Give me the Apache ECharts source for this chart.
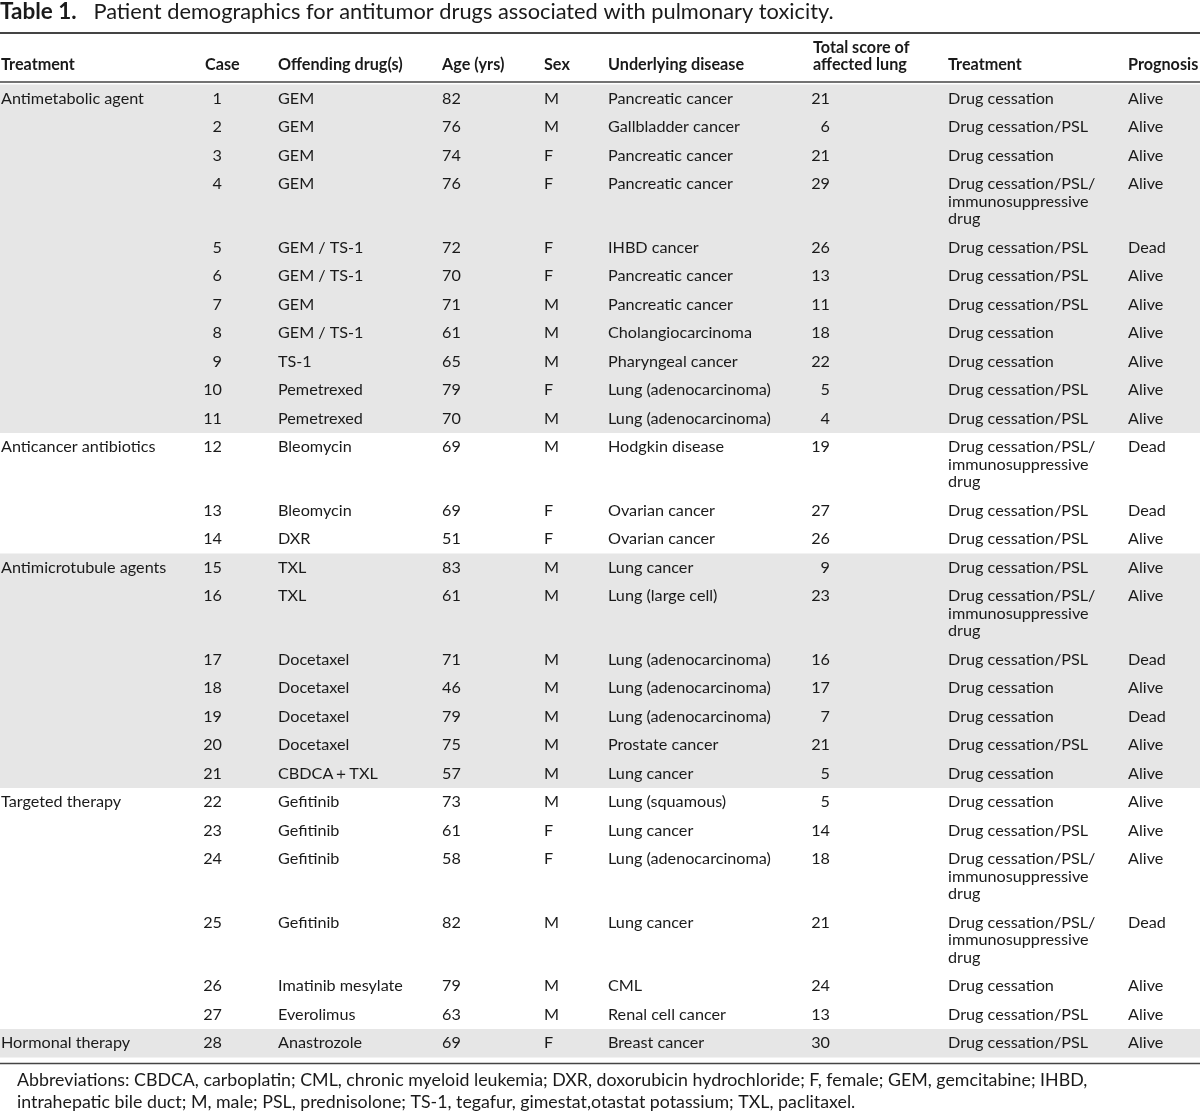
<!DOCTYPE html>
<html><head><meta charset="utf-8">
<script src="https://cdn.jsdelivr.net/npm/echarts@6/dist/echarts.min.js"></script>
<style>html,body{margin:0;padding:0;background:#fff}#c{width:1200px;height:1111px}</style>
</head><body><div id="c"></div>
<script>
const groupNames = ['Antimetabolic agent','Anticancer antibiotics','Antimicrotubule agents','Targeted therapy','Hormonal therapy'];
const groupFirstCase = [1,12,15,22,28];
const groupLastCase = [11,14,21,27,28];
const groupShaded = [true,false,true,false,true];
const headers = ['Treatment','Case','Offending drug(s)','Age (yrs)','Sex','Underlying disease','Total score of\naffected lung','Treatment','Prognosis'];
const cases = [1,2,3,4,5,6,7,8,9,10,11,12,13,14,15,16,17,18,19,20,21,22,23,24,25,26,27,28];
const drugs = ['GEM','GEM','GEM','GEM','GEM / TS-1','GEM / TS-1','GEM','GEM / TS-1','TS-1','Pemetrexed','Pemetrexed','Bleomycin','Bleomycin','DXR','TXL','TXL','Docetaxel','Docetaxel','Docetaxel','Docetaxel','CBDCA\uFF0BTXL','Gefitinib','Gefitinib','Gefitinib','Gefitinib','Imatinib mesylate','Everolimus','Anastrozole'];
const ages = [82,76,74,76,72,70,71,61,65,79,70,69,69,51,83,61,71,46,79,75,57,73,61,58,82,79,63,69];
const sexes = ['M','M','F','F','F','F','M','M','M','F','M','M','F','F','M','M','M','M','M','M','M','M','F','F','M','M','M','F'];
const diseases = ['Pancreatic cancer','Gallbladder cancer','Pancreatic cancer','Pancreatic cancer','IHBD cancer','Pancreatic cancer','Pancreatic cancer','Cholangiocarcinoma','Pharyngeal cancer','Lung (adenocarcinoma)','Lung (adenocarcinoma)','Hodgkin disease','Ovarian cancer','Ovarian cancer','Lung cancer','Lung (large cell)','Lung (adenocarcinoma)','Lung (adenocarcinoma)','Lung (adenocarcinoma)','Prostate cancer','Lung cancer','Lung (squamous)','Lung cancer','Lung (adenocarcinoma)','Lung cancer','CML','Renal cell cancer','Breast cancer'];
const scores = [21,6,21,29,26,13,11,18,22,5,4,19,27,26,9,23,16,17,7,21,5,5,14,18,21,24,13,30];
const DC = 'Drug cessation', DP = 'Drug cessation/PSL', DI = 'Drug cessation/PSL/\nimmunosuppressive\ndrug';
const therapies = [DC,DP,DC,DI,DP,DP,DP,DC,DC,DP,DP,DI,DP,DP,DP,DI,DP,DC,DC,DP,DC,DC,DP,DI,DI,DC,DP,DP];
const prognoses = ['Alive','Alive','Alive','Alive','Dead','Alive','Alive','Alive','Alive','Alive','Alive','Dead','Dead','Alive','Alive','Alive','Dead','Alive','Dead','Alive','Alive','Alive','Alive','Alive','Dead','Alive','Alive','Alive'];
const titleBold = 'Table 1.';
const titleText = 'Patient demographics for antitumor drugs associated with pulmonary toxicity.';
const footnote = 'Abbreviations: CBDCA, carboplatin; CML, chronic myeloid leukemia; DXR, doxorubicin hydrochloride; F, female; GEM, gemcitabine; IHBD,\nintrahepatic bile duct; M, male; PSL, prednisolone; TS-1, tegafur, gimestat,otastat potassium; TXL, paclitaxel.';

// layout
const FONT = 'Lato, "Open Sans", sans-serif';
const FS = 16.2, LINE = 17.5, ROW = 28.5, TOP = 84.5;
const TXT = '#1a1a1a', BAND = '#e6e6e6', RULE = '#444';
const colX = [1, 222, 278, 442, 544, 608, 830, 948, 1128];
const colAlign = ['left','right','left','left','left','left','right','left','left'];
const headX = [1, 205, 278, 442, 544, 608, 813, 948, 1128];

const spans = [];
(function(){ let y = TOP; therapies.forEach(t => { const n = t.split('\n').length; const top = y; y += ROW + LINE*(n-1); spans.push([top, y]); }); })();

const chart = echarts.init(document.getElementById('c'), null, {renderer:'canvas'});
function txt(api, x, y, text, align, bold, vAlign){
  const p = api.coord([x, y]);
  return {type:'text', x:p[0], y:p[1], style:{text:String(text), fill:TXT, fontFamily:FONT, fontSize:FS, fontWeight: bold?'bold':'normal', align:align, verticalAlign:vAlign||'top', lineHeight:LINE}};
}
const option = {
  animation:false,
  backgroundColor:'#fff',
  grid:{left:0,right:0,top:0,bottom:0},
  xAxis:{type:'value',min:0,max:1200,show:false},
  yAxis:{type:'value',min:0,max:1111,inverse:true,show:false},
  title:[
    {text:'{b|'+titleBold+'}   '+titleText, left:0, top:0, padding:0, textStyle:{fontFamily:FONT,fontSize:21.8,fontWeight:'normal',color:TXT,lineHeight:24,rich:{b:{fontFamily:FONT,fontSize:22.5,fontWeight:'bold',color:TXT}}}},
    {text:footnote, left:17, top:1069, padding:0, textStyle:{fontFamily:FONT,fontSize:17.8,fontWeight:'normal',color:TXT,lineHeight:22}}
  ],
  series:[
    {type:'custom', silent:true, clip:false, z:1,
     data: groupNames.map((g,i)=>[0,i]),
     renderItem:function(params, api){
       const i = params.dataIndex;
       const top = spans[groupFirstCase[i]-1][0], bot = spans[groupLastCase[i]-1][1];
       const children = [];
       if (groupShaded[i]) {
         const a = api.coord([0, top]), b = api.coord([1200, bot]);
         children.push({type:'rect', shape:{x:a[0], y:a[1], width:b[0]-a[0], height:b[1]-a[1]}, style:{fill:BAND}});
       }
       children.push(txt(api, colX[0], top + (ROW/2 - LINE/2), groupNames[i], 'left', false));
       return {type:'group', children:children};
     }},
    {type:'custom', silent:true, clip:false, z:2,
     data: cases.map((c,i)=>[0,i]),
     renderItem:function(params, api){
       const i = params.dataIndex;
       const y = spans[i][0] + (ROW/2 - LINE/2);
       const vals = [null, cases[i], drugs[i], ages[i], sexes[i], diseases[i], scores[i], therapies[i], prognoses[i]];
       const children = [];
       for (let k=1;k<vals.length;k++) children.push(txt(api, colX[k], y, vals[k], colAlign[k], false));
       return {type:'group', children:children};
     }},
    {type:'custom', silent:true, clip:false, z:3,
     data: headers.map((h,i)=>[0,i]),
     renderItem:function(params, api){
       const i = params.dataIndex;
       return txt(api, headX[i], 74, headers[i], 'left', true, 'bottom');
     }}
  ],
  graphic:[
    {type:'line', shape:{x1:0,y1:33,x2:1200,y2:33}, style:{stroke:RULE,lineWidth:2}},
    {type:'line', shape:{x1:0,y1:82,x2:1200,y2:82}, style:{stroke:RULE,lineWidth:1.5}},
    {type:'line', shape:{x1:0,y1:1063.5,x2:1200,y2:1063.5}, style:{stroke:RULE,lineWidth:1.5}}
  ]
};
chart.setOption(option);
</script></body></html>
